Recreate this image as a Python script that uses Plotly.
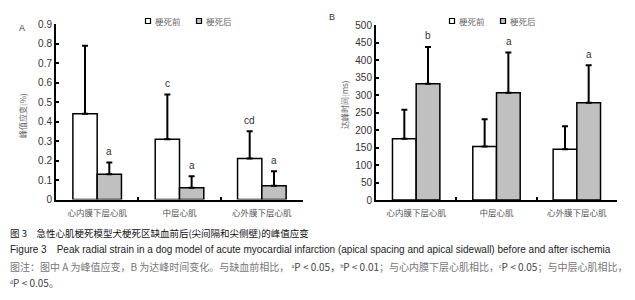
import plotly.graph_objects as go

categories = ["心内膜下层心肌", "中层心肌", "心外膜下层心肌"]
series_names = ["梗死前", "梗死后"]

# Panel A: peak strain (%)
a_before = [0.44, 0.31, 0.21]
a_before_err = [0.35, 0.23, 0.14]
a_after = [0.13, 0.06, 0.07]
a_after_err = [0.06, 0.06, 0.075]
a_before_sig = ["", "c", "cd"]
a_after_sig = ["a", "a", "a"]

# Panel B: time to peak (ms)
b_before = [175, 153, 145]
b_before_err = [83, 78, 66]
b_after = [333, 307, 278]
b_after_err = [105, 115, 108]
b_before_sig = ["", "", ""]
b_after_sig = ["b", "a", "a"]

WHITE = "#ffffff"
GRAY = "#c0c0c0"
CJK = "Noto Sans CJK SC"
LAT = "Liberation Sans, Arial"

fig = go.Figure()

def add_bars(xa, ya, before, berr, after, aerr):
    for name, vals, errs, col in [(series_names[0], before, berr, WHITE),
                                  (series_names[1], after, aerr, GRAY)]:
        fig.add_trace(go.Bar(
            x=categories, y=vals, name=name, xaxis=xa, yaxis=ya,
            marker=dict(color=col, line=dict(color="black", width=1.5)),
            error_y=dict(type="data", array=errs, arrayminus=[0]*len(errs),
                         symmetric=False, color="black", thickness=2, width=3),
            showlegend=False))

add_bars("x", "y", a_before, a_before_err, a_after, a_after_err)
add_bars("x2", "y2", b_before, b_before_err, b_after, b_after_err)

annotations = []
def add_sig(xref, yref, before, berr, after, aerr, bsig, asig):
    for i, c in enumerate(categories):
        for vals, errs, sig, shift in [(before, berr, bsig, -12), (after, aerr, asig, 12)]:
            if sig[i]:
                annotations.append(dict(
                    x=c, y=vals[i] + errs[i], xref=xref, yref=yref, text=sig[i],
                    showarrow=False, xshift=shift, yshift=11,
                    font=dict(family=LAT, size=10, color="#333")))

add_sig("x", "y", a_before, a_before_err, a_after, a_after_err, a_before_sig, a_after_sig)
add_sig("x2", "y2", b_before, b_before_err, b_after, b_after_err, b_before_sig, b_after_sig)

axis_common = dict(showline=True, linecolor="black", linewidth=2, showgrid=False,
                   zeroline=False, ticks="inside", tickcolor="black", tickwidth=2, ticklen=3,
                   automargin=False)

xcommon = dict(axis_common, tickson="boundaries", ticklabelstandoff=4,
               tickfont=dict(family=CJK, size=8.5, color="#555"))
ycommon = dict(axis_common, tickfont=dict(family=LAT, size=10, color="#333"))

def P(x, y):
    return dict(x=x/635, y=1-y/300, xref="paper", yref="paper", showarrow=False,
                xanchor="center", yanchor="middle")

# Panel letters, y titles
annotations += [
    dict(P(22, 28), text="A", font=dict(family=LAT, size=9, color="#333")),
    dict(P(332, 17), text="B", font=dict(family=LAT, size=9, color="#333")),
    dict(P(22, 116), text="峰值应变(%)", textangle=-90, font=dict(family=CJK, size=8, color="#666")),
    dict(P(344, 105), text="达峰时间(ms)", textangle=-90, font=dict(family=CJK, size=8, color="#666")),
]

# Legends (swatches + text)
shapes = []
for lx in [148, 452]:
    for k, (col, off) in enumerate([(WHITE, 0), (GRAY, 51)]):
        x0 = lx + off
        shapes.append(dict(type="rect", xref="paper", yref="paper",
                           x0=(x0-2.5)/635, x1=(x0+2.5)/635, y0=1-23.5/300, y1=1-18.5/300,
                           line=dict(color="black", width=1.2), fillcolor=col))
        annotations.append(dict(P(x0+5, 21), xanchor="left", text=series_names[k],
                                font=dict(family=CJK, size=8.5, color="#666")))

# Caption
G = "<span style='color:#777'>"
cap_lines = [
    ("图 3　急性心肌梗死模型犬梗死区缺血前后(尖间隔和尖侧壁)的峰值应变", 233, "#111", CJK, 9.5),
    ("Figure 3　Peak radial strain in a dog model of acute myocardial infarction (apical spacing and apical sidewall) before and after ischemia", 249, "#222", LAT, 10),
    (G + "图注：图中 A 为峰值应变，B 为达峰时间变化。与缺血前相比，</span> ᵃP < 0.05，ᵇP < 0.01" + G + "；与心内膜下层心肌相比，</span>ᶜP < 0.05" + G + "；与中层心肌相比，</span>", 266, "#444", CJK, 10),
    ("ᵈP < 0.05。", 282, "#444", CJK, 10),
]
for txt, yy, col, fam, sz in cap_lines:
    annotations.append(dict(P(8, yy), xanchor="left", text=txt,
                            font=dict(family=fam, size=sz, color=col)))

fig.update_layout(
    width=635, height=300, margin=dict(l=0, r=0, t=0, b=0),
    paper_bgcolor="white", plot_bgcolor="white",
    barmode="group", bargap=0.41, bargroupgap=0,
    xaxis=dict(xcommon, domain=[56/635, 303/635], anchor="y"),
    yaxis=dict(ycommon, domain=[1-199.5/300, 1-24.3/300], range=[0, 0.9], dtick=0.1, anchor="x"),
    xaxis2=dict(xcommon, domain=[376/635, 617/635], anchor="y2"),
    yaxis2=dict(ycommon, domain=[1-200/300, 1-25.3/300], range=[0, 500], dtick=50, anchor="x2"),
    annotations=annotations, shapes=shapes, showlegend=False,
)

fig.write_html("out.html", config={"displayModeBar": False},
               post_script="document.body.style.margin='0';document.body.style.overflow='hidden';")
